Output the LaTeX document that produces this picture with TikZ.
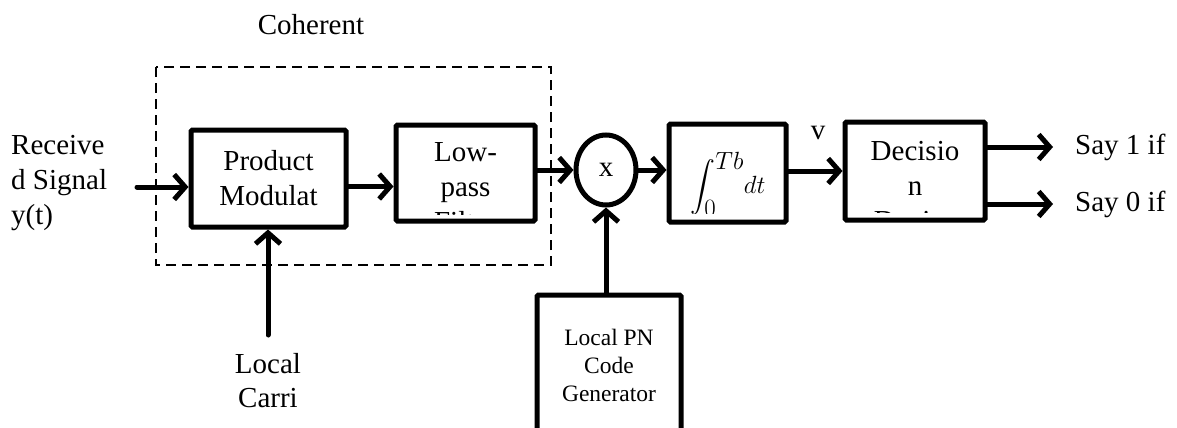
\documentclass[tikz,border=0pt]{standalone}
\usepackage{exscale}
\usepackage{fontspec}
\setmainfont{Liberation Serif}
\usetikzlibrary{arrows.meta,shapes.geometric,calc}
\begin{document}
\begin{tikzpicture}[x=1pt,y=-1pt,
  font=\fontsize{29}{35}\selectfont,
  box/.style={draw,line width=5pt,rounded corners=1.5pt,inner sep=0pt,align=center},
  arr/.style={line width=5pt,line cap=round,-{Straight Barb[length=11pt,width=25pt]}},
  lbl/.style={inner sep=0pt,align=center},
  dashbox/.style={draw,line width=2pt,dash pattern=on 10pt off 6pt}]
\clip (0,0) rectangle (1177,428);
% dashed group
\draw[dashbox] (156,67) rectangle (551,265);
\node[lbl] (coh) at (311,25) {Coherent};
% blocks
\node[box,minimum width=155pt,minimum height=97pt] (pm) at (268.5,178.5) {Product\\Modulat};
\node[box,minimum width=139pt,minimum height=96pt] (lp) at (465.5,173) {};
\node[box,ellipse,minimum width=60pt,minimum height=70pt] (mx) at (606,170) {x};
\node[box,minimum width=117pt,minimum height=98pt] (ig) at (727.5,173) {};
\node[box,minimum width=140pt,minimum height=98pt] (dc) at (915,171) {};
\node[box,minimum width=144pt,minimum height=140pt,font=\fontsize{23.5}{28}\selectfont] (pn) at (609,365) {Local PN\\Code\\Generator};
% clipped box contents
\begin{scope}
  \clip (lp.north west) rectangle ([yshift=9pt]lp.south east);
  \node[lbl] (lptext) at (465.5,187) {Low-\\pass\\Filter};
\end{scope}
\begin{scope}
  \clip (ig.north west) rectangle ([yshift=11pt]ig.south east);
  \node[lbl,font=\fontsize{34}{40}\selectfont] (igtext) at (728,184) {$\displaystyle\int_{0}^{Tb}\! dt$};
\end{scope}
\begin{scope}
  \clip (dc.north west) rectangle ([yshift=10pt]dc.south east);
  \node[lbl] (dctext) at (915,186) {Decisio\\n\\Device};
\end{scope}
% labels
\node[lbl,align=left,anchor=west] (rx) at (11,183) {Receive\\d Signal\\y(t)};
\node[lbl,font=\fontsize{29}{34}\selectfont] (lcar) at (268,381) {Local\\Carri};
\node[lbl] (v) at (818,133) {v};
\node[lbl,anchor=west] (s1) at (1075,147) {Say 1 if};
\node[lbl,anchor=west] (s0) at (1075,204) {Say 0 if};
% coordinates
\coordinate (rxin) at (137,187);
\coordinate (lcin) at (268,335);
\coordinate (o1) at (1053,147);
\coordinate (o0) at (1053,204);
% connectors
\draw[arr] (rxin) -- (rxin -| pm.west);
\draw[arr] ([yshift=-8pt]pm.east) -- ([yshift=-8pt]pm.east -| lp.west);
\draw[arr] (mx.west -| lp.east) -- (mx.west);
\draw[arr] (mx.east) -- (mx.east -| ig.west);
\draw[arr] (dc.west -| ig.east) -- (dc.west);
\draw[arr] (o1 -| dc.east) -- (o1);
\draw[arr] (o0 -| dc.east) -- (o0);
\draw[arr] (lcin) -- (lcin |- pm.south);
\draw[arr] (mx.south |- pn.north) -- (mx.south);
\end{tikzpicture}
\end{document}
